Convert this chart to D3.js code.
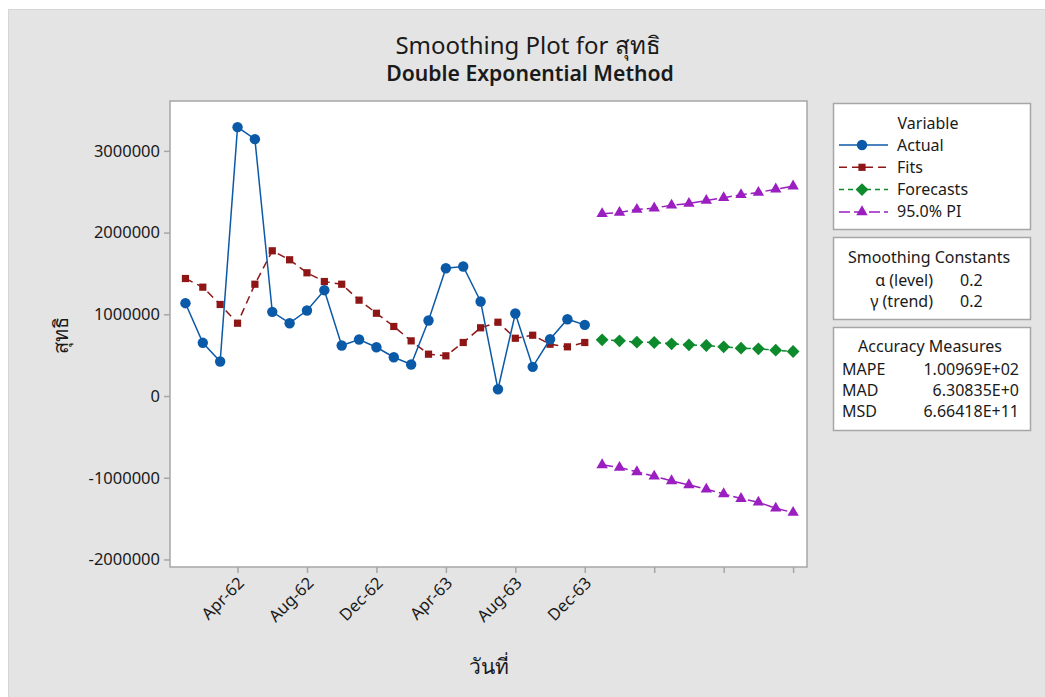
<!DOCTYPE html>
<html>
<head>
<meta charset="utf-8">
<script src="https://cdn.jsdelivr.net/npm/d3@7"></script>
<style>
  body { margin: 0; background: #fff; }
  svg text { font-family: "Noto Sans", "Open Sans", sans-serif; fill: #1a1a1a; }
</style>
</head>
<body>
<div id="chart"></div>
<script>
// monthly values, Jan-62 .. Dec-63 (index 0..23), forecasts Jan-64 .. Dec-64 (index 24..35)
const actual = [1136000, 651000, 422000, 3290000, 3143000, 1030000, 891000, 1046000, 1295000, 618000,
  692000, 597000, 475000, 386000, 924000, 1564000, 1585000, 1157000, 83000, 1010000, 357000, 695000,
  940000, 871000];
const fits = [1438000, 1332000, 1120000, 891000, 1368000, 1777000, 1667000, 1508000, 1401000, 1368000,
  1173000, 1013000, 851000, 675000, 512000, 492000, 655000, 835000, 903000, 707000, 744000, 634000,
  602000, 655000];
const forecasts = [688000, 676000, 659000, 655000, 639000, 627000, 618000, 602000, 585000, 578000, 561000, 545000];
const piUpper = [2230000, 2246000, 2283000, 2299000, 2335000, 2356000, 2393000, 2426000, 2463000, 2491000, 2531000, 2568000];
const piLower = [-842000, -875000, -928000, -982000, -1038000, -1087000, -1141000, -1197000, -1255000, -1300000, -1373000, -1426000];
const xTickIdx = [3, 7, 11, 15, 19, 23, 27, 31, 35];
const xTickLabels = ['Apr-62', 'Aug-62', 'Dec-62', 'Apr-63', 'Aug-63', 'Dec-63', '', '', ''];
const yTicks = [-2000000, -1000000, 0, 1000000, 2000000, 3000000];
const legendNames = ['Actual', 'Fits', 'Forecasts', '95.0% PI'];
const constants = [['α (level)', '0.2'], ['γ (trend)', '0.2']];
const accuracy = [['MAPE', '1.00969E+02'], ['MAD', '6.30835E+0'], ['MSD', '6.66418E+11']];

const W = 1045, H = 697;
const plot = { left: 170, top: 101, right: 807, bottom: 567 };
const colors = { actual: '#0b5aa8', fits: '#8e1616', forecasts: '#0d8a2c', pi: '#9a1ec0' };
const fs = '16px';

const svg = d3.select('#chart').append('svg').attr('width', W).attr('height', H);

// grey panel
svg.append('rect').attr('x', 8.5).attr('y', 9.5).attr('width', W).attr('height', H)
  .attr('fill', '#e4e4e4').attr('stroke', '#d6d6d6');

const x = d3.scaleLinear().domain([-0.89, 35.8]).range([plot.left, plot.right]);
const y = d3.scaleLinear().domain([-2092000, 3610000]).range([plot.bottom, plot.top]);

svg.append('rect')
  .attr('x', plot.left).attr('y', plot.top)
  .attr('width', plot.right - plot.left).attr('height', plot.bottom - plot.top)
  .attr('fill', '#fff').attr('stroke', '#a6a6a6').attr('stroke-width', 1.5);

// axes
const yAxis = svg.append('g').attr('transform', 'translate(' + plot.left + ',0)')
  .call(d3.axisLeft(y).tickValues(yTicks).tickSize(6).tickPadding(4).tickFormat((d) => String(d)));
const xAxis = svg.append('g').attr('transform', 'translate(0,' + plot.bottom + ')')
  .call(d3.axisBottom(x).tickValues(xTickIdx).tickSize(6).tickFormat((d, i) => xTickLabels[i]));
[xAxis, yAxis].forEach((a) => {
  a.select('.domain').remove();
  a.selectAll('line').attr('stroke', '#a6a6a6').attr('stroke-width', 1.5);
  a.selectAll('text').style('font-size', '16.5px').attr('fill', '#1a1a1a');
});
xAxis.selectAll('text')
  .attr('text-anchor', 'end')
  .attr('dy', '0.35em')
  .attr('transform', 'translate(3,13) rotate(-45)')
  .attr('y', 0).attr('x', 0);

// titles
svg.append('text').attr('x', 528).attr('y', 54).attr('text-anchor', 'middle')
  .style('font-size', '24px').text('Smoothing Plot for สุทธิ');
svg.append('text').attr('x', 530).attr('y', 81).attr('text-anchor', 'middle')
  .style('font-size', '21.2px').style('font-weight', 600).text('Double Exponential Method');
svg.append('text').attr('x', 489).attr('y', 674).attr('text-anchor', 'middle')
  .style('font-size', '21px').text('วันที่');
svg.append('text').attr('transform', 'translate(68,335) rotate(-90)').attr('text-anchor', 'middle')
  .style('font-size', '20px').text('สุทธิ');

// series
const line = d3.line().x((d) => x(d[0])).y((d) => y(d[1]));
const pts = (arr, off) => arr.map((v, i) => [i + off, v]);

function drawLine(data, color, dash, width) {
  svg.append('path').datum(data).attr('d', line)
    .attr('fill', 'none').attr('stroke', color).attr('stroke-width', width)
    .attr('stroke-dasharray', dash);
}
const sym = {
  circle: [d3.symbol().type(d3.symbolCircle).size(85), 0],
  square: [d3.symbol().type(d3.symbolSquare).size(52), 0],
  diamond: [d3.symbol().type(d3.symbolSquare).size(82), 45],
  triangle: [d3.symbol().type(d3.symbolTriangle).size(56), 0],
};
function drawMarks(data, color, s) {
  svg.append('g').selectAll('path').data(data).enter().append('path')
    .attr('d', sym[s][0]).attr('fill', color)
    .attr('transform', (d) => 'translate(' + x(d[0]) + ',' + y(d[1]) + ') rotate(' + sym[s][1] + ')');
}

drawLine(pts(piUpper, 24), colors.pi, '11,4', 1.5);
drawLine(pts(piLower, 24), colors.pi, '11,4', 1.5);
drawMarks(pts(piUpper, 24), colors.pi, 'triangle');
drawMarks(pts(piLower, 24), colors.pi, 'triangle');
drawLine(pts(forecasts, 24), colors.forecasts, '5,4', 1.5);
drawMarks(pts(forecasts, 24), colors.forecasts, 'diamond');
drawLine(pts(fits, 0), colors.fits, '8,5', 1.5);
drawMarks(pts(fits, 0), colors.fits, 'square');
drawLine(pts(actual, 0), colors.actual, null, 1.5);
drawMarks(pts(actual, 0), colors.actual, 'circle');

// legend boxes
function box(y0, h) {
  svg.append('rect').attr('x', 833.5).attr('y', y0 + 0.5).attr('width', 197).attr('height', h)
    .attr('fill', '#fff').attr('stroke', '#a6a6a6').attr('stroke-width', 1.5);
}
box(103, 126);
box(237, 82);
box(327, 103);

svg.append('text').attr('x', 928).attr('y', 129).attr('text-anchor', 'middle')
  .style('font-size', fs).text('Variable');
const legendStyles = [
  [colors.actual, null, 'circle'],
  [colors.fits, '8,5', 'square'],
  [colors.forecasts, '5,4', 'diamond'],
  [colors.pi, '11,4', 'triangle'],
];
legendNames.forEach((name, i) => {
  const ly = 145 + i * 22.3;
  const [c, dash, s] = legendStyles[i];
  svg.append('line').attr('x1', 839).attr('x2', 888).attr('y1', ly).attr('y2', ly)
    .attr('stroke', c).attr('stroke-width', 1.5).attr('stroke-dasharray', dash);
  svg.append('path').attr('d', sym[s][0]).attr('fill', c)
    .attr('transform', 'translate(862,' + ly + ') rotate(' + sym[s][1] + ')');
  svg.append('text').attr('x', 897).attr('y', ly + 5.5).style('font-size', fs).text(name);
});

svg.append('text').attr('x', 929).attr('y', 263).attr('text-anchor', 'middle')
  .style('font-size', fs).text('Smoothing Constants');
constants.forEach((r, i) => {
  const ly = 286 + i * 21;
  svg.append('text').attr('x', 933).attr('y', ly).attr('text-anchor', 'end').style('font-size', fs).text(r[0]);
  svg.append('text').attr('x', 960).attr('y', ly).style('font-size', fs).text(r[1]);
});

svg.append('text').attr('x', 930).attr('y', 352).attr('text-anchor', 'middle')
  .style('font-size', fs).text('Accuracy Measures');
accuracy.forEach((r, i) => {
  const ly = 375 + i * 21;
  svg.append('text').attr('x', 842).attr('y', ly).style('font-size', fs).text(r[0]);
  svg.append('text').attr('x', 1019).attr('y', ly).attr('text-anchor', 'end').style('font-size', fs).text(r[1]);
});
</script>
</body>
</html>
